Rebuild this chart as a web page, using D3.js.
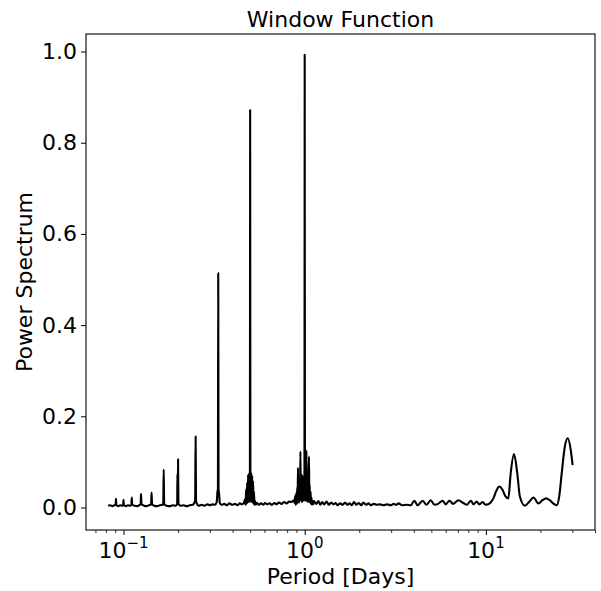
<!DOCTYPE html>
<html>
<head>
<meta charset="utf-8">
<script src="https://cdn.jsdelivr.net/npm/d3@7"></script>
<style>
  body { margin: 0; background: #fff; }
  text { font-family: "DejaVu Sans", sans-serif; fill: #000; }
</style>
</head>
<body>
<svg id="chart"></svg>
<script>
// Chart size and margins
const width = 601;
const height = 591;
const margin = { top: 34, right: 6, bottom: 61, left: 86 };
const fontSize = 22;

// Harmonic spikes at 1/n days (0.08 - 1.13 days)
const harmonicPeriod = [
  0.0823, 0.0845, 0.0868, 0.0890, 0.0905, 0.0909, 0.0913, 0.0935, 0.0960, 0.0985,
  0.0996, 0.1000, 0.1004, 0.1030, 0.1060, 0.1085, 0.1106, 0.1111, 0.1116, 0.1150,
  0.1190, 0.1220, 0.1243, 0.1250, 0.1257, 0.1300, 0.1340, 0.1380, 0.1420, 0.1429,
  0.1438, 0.1480, 0.1530, 0.1590, 0.1657, 0.1667, 0.1677, 0.1730, 0.1800, 0.1870,
  0.1940, 0.1978, 0.1985, 0.1992, 0.2000, 0.2010, 0.2070, 0.2150, 0.2230, 0.2320,
  0.2410, 0.2470, 0.2486, 0.2500, 0.2514, 0.2530, 0.2600, 0.2700, 0.2800, 0.2900,
  0.3000, 0.3100, 0.3200, 0.3270, 0.3300, 0.3320, 0.3333, 0.3347, 0.3370, 0.3400,
  0.3480, 0.3600, 0.3720, 0.3850, 0.3980, 0.4120, 0.4250, 0.4380, 0.4500, 0.4620,
  0.4680, 0.4720, 0.4750, 0.4780, 0.4810, 0.4840, 0.4870, 0.4900, 0.4930, 0.4960,
  0.4985, 0.5000, 0.5015, 0.5040, 0.5070, 0.5100, 0.5130, 0.5160, 0.5190, 0.5220,
  0.5250, 0.5280, 0.5320, 0.5370, 0.5450, 0.5600, 0.5750, 0.5900, 0.6050, 0.6200,
  0.6400, 0.6600, 0.6800, 0.7000, 0.7200, 0.7450, 0.7700, 0.7950, 0.8200, 0.8450,
  0.8700, 0.8800, 0.8860, 0.8920, 0.8980, 0.9040, 0.9100, 0.9140, 0.9180, 0.9220,
  0.9270, 0.9320, 0.9370, 0.9420, 0.9470, 0.9520, 0.9570, 0.9620, 0.9670, 0.9720,
  0.9770, 0.9820, 0.9870, 0.9920, 0.9970, 1.0000, 1.0030, 1.0080, 1.0130, 1.0180,
  1.0220, 1.0260, 1.0310, 1.0360, 1.0410, 1.0460, 1.0510, 1.0560, 1.0610, 1.0660,
  1.0710, 1.0770, 1.0830, 1.0900, 1.0970, 1.1050, 1.1150, 1.1250
];
const harmonicPower = [
  0.004, 0.005, 0.003, 0.005, 0.006, 0.019, 0.006, 0.003, 0.005, 0.004,
  0.006, 0.017, 0.006, 0.003, 0.005, 0.004, 0.006, 0.022, 0.006, 0.004,
  0.003, 0.005, 0.007, 0.030, 0.007, 0.004, 0.003, 0.005, 0.007, 0.033,
  0.007, 0.004, 0.003, 0.005, 0.007, 0.083, 0.007, 0.004, 0.003, 0.005,
  0.004, 0.008, 0.074, 0.012, 0.106, 0.008, 0.004, 0.005, 0.003, 0.005,
  0.006, 0.012, 0.016, 0.156, 0.016, 0.010, 0.004, 0.006, 0.004, 0.007,
  0.005, 0.007, 0.006, 0.012, 0.035, 0.040, 0.514, 0.040, 0.030, 0.010,
  0.006, 0.008, 0.005, 0.009, 0.006, 0.008, 0.005, 0.009, 0.007, 0.010,
  0.018, 0.006, 0.040, 0.008, 0.055, 0.010, 0.072, 0.012, 0.075, 0.012,
  0.070, 0.871, 0.070, 0.012, 0.076, 0.012, 0.070, 0.010, 0.058, 0.008,
  0.035, 0.006, 0.015, 0.006, 0.010, 0.006, 0.009, 0.006, 0.010, 0.007,
  0.009, 0.006, 0.010, 0.007, 0.011, 0.008, 0.012, 0.009, 0.013, 0.012,
  0.016, 0.010, 0.025, 0.006, 0.032, 0.008, 0.045, 0.010, 0.087, 0.012,
  0.055, 0.010, 0.065, 0.015, 0.123, 0.015, 0.070, 0.012, 0.072, 0.012,
  0.068, 0.015, 0.062, 0.015, 0.055, 0.993, 0.055, 0.015, 0.075, 0.015,
  0.125, 0.015, 0.078, 0.012, 0.070, 0.012, 0.068, 0.112, 0.012, 0.050,
  0.010, 0.035, 0.008, 0.022, 0.006, 0.015, 0.007, 0.014
];

// Low-level noise, 1.16 - 10 days
const noisePeriod = [
  1.16, 1.19, 1.22, 1.25, 1.28, 1.32, 1.36, 1.40, 1.44, 1.48,
  1.52, 1.57, 1.62, 1.67, 1.72, 1.77, 1.82, 1.87, 1.93, 1.99,
  2.05, 2.11, 2.18, 2.25, 2.32, 2.40, 2.50, 2.60, 2.72, 2.85,
  2.98, 3.10, 3.20, 3.30, 3.45, 3.65, 3.85, 4.03, 4.20, 4.48,
  4.70, 4.96, 5.20, 5.45, 5.77, 6.00, 6.29, 6.60, 7.05, 7.50,
  7.85, 8.25, 8.55, 8.90, 9.20, 9.60, 9.95
];
const noisePower = [
  0.008, 0.014, 0.006, 0.012, 0.007, 0.013, 0.006, 0.011, 0.007, 0.010,
  0.005, 0.009, 0.006, 0.011, 0.006, 0.009, 0.005, 0.012, 0.006, 0.010,
  0.005, 0.011, 0.006, 0.009, 0.005, 0.008, 0.006, 0.007, 0.005, 0.007,
  0.005, 0.008, 0.006, 0.009, 0.005, 0.006, 0.005, 0.015, 0.005, 0.015,
  0.006, 0.016, 0.006, 0.008, 0.015, 0.007, 0.015, 0.008, 0.016, 0.010,
  0.006, 0.015, 0.007, 0.013, 0.007, 0.012, 0.006
];

// Smooth long-period part, 10 - 30 days
const longPeriod = [
  10.4, 11.0, 11.45, 11.86, 12.3, 12.8, 13.3, 13.7, 14.29, 14.9,
  15.4, 16.4, 17.3, 18.3, 19.5, 20.5, 21.5, 22.5, 23.5, 24.6,
  25.4, 26.2, 27.3, 28.3, 29.4, 30.1
];
const longPower = [
  0.008, 0.020, 0.038, 0.046, 0.040, 0.025, 0.020, 0.075, 0.117, 0.075,
  0.024, 0.004, 0.012, 0.022, 0.009, 0.016, 0.020, 0.016, 0.009, 0.005,
  0.025, 0.075, 0.135, 0.152, 0.126, 0.093
];

// Ticks
const yTicks = [0.0, 0.2, 0.4, 0.6, 0.8, 1.0];
const xMajorTicks = [0.1, 1, 10];
const xMajorExp = ["\u22121", "0", "1"];
const xMinorTicks = [0.07, 0.08, 0.09, 0.2, 0.3, 0.4, 0.5, 0.6, 0.7, 0.8, 0.9,
  2, 3, 4, 5, 6, 7, 8, 9, 20, 30, 40];

const periods = harmonicPeriod.concat(noisePeriod, longPeriod);
const powers = harmonicPower.concat(noisePower, longPower);
const data = periods.map((p, i) => ({ period: p, power: powers[i] }));

const svg = d3.select("#chart")
  .attr("width", width)
  .attr("height", height);

const x = d3.scaleLog()
  .domain([0.0621, 40.0])
  .range([margin.left, width - margin.right]);

const y = d3.scaleLinear()
  .domain([-0.0493, 1.0384])
  .range([height - margin.bottom, margin.top]);

svg.append("defs").append("clipPath")
  .attr("id", "plot-clip")
  .append("rect")
  .attr("x", margin.left)
  .attr("y", margin.top)
  .attr("width", width - margin.left - margin.right)
  .attr("height", height - margin.top - margin.bottom);

// Spectrum line
const line = d3.line()
  .x(d => x(d.period))
  .y(d => y(d.power))
  .curve(d3.curveMonotoneX);

svg.append("path")
  .datum(data)
  .attr("clip-path", "url(#plot-clip)")
  .attr("d", line)
  .attr("fill", "none")
  .attr("stroke", "#000")
  .attr("stroke-width", 2.1)
  .attr("stroke-linejoin", "round");

// Y axis
const yAxis = svg.append("g")
  .attr("transform", `translate(${margin.left},0)`)
  .call(d3.axisLeft(y).tickValues(yTicks).tickSize(5).tickPadding(4)
    .tickFormat(d3.format(".1f")));
yAxis.select(".domain").remove();
yAxis.selectAll("line").attr("stroke", "#000").attr("stroke-width", 1);
yAxis.selectAll("text")
  .attr("font-size", fontSize)
  .attr("font-family", "DejaVu Sans, sans-serif")
  .attr("fill", "#000");

// X axis: major ticks
const xAxis = svg.append("g")
  .attr("transform", `translate(0,${height - margin.bottom})`)
  .call(d3.axisBottom(x).tickValues(xMajorTicks).tickSize(5).tickFormat(""));
xAxis.select(".domain").remove();
xAxis.selectAll("line").attr("stroke", "#000").attr("stroke-width", 1);

// X axis: minor ticks
const xMinor = svg.append("g")
  .attr("transform", `translate(0,${height - margin.bottom})`)
  .call(d3.axisBottom(x).tickValues(xMinorTicks).tickSize(3).tickFormat(""));
xMinor.select(".domain").remove();
xMinor.selectAll("line").attr("stroke", "#000").attr("stroke-width", 0.8);

// X tick labels as 10^n
const xLabels = svg.append("g")
  .selectAll("text")
  .data(xMajorTicks)
  .enter().append("text")
  .attr("x", d => x(d))
  .attr("y", 558)
  .attr("text-anchor", "middle")
  .attr("font-size", fontSize);
xLabels.append("tspan").text("10");
xLabels.append("tspan")
  .attr("dy", -10)
  .attr("font-size", 15)
  .text((d, i) => xMajorExp[i]);

// Frame
svg.append("rect")
  .attr("x", margin.left)
  .attr("y", margin.top)
  .attr("width", width - margin.left - margin.right)
  .attr("height", height - margin.top - margin.bottom)
  .attr("fill", "none")
  .attr("stroke", "#000")
  .attr("stroke-width", 1.1);

// Title and axis labels
const cx = (margin.left + width - margin.right) / 2;
svg.append("text")
  .attr("x", cx)
  .attr("y", 27)
  .attr("text-anchor", "middle")
  .attr("font-size", fontSize)
  .text("Window Function");

svg.append("text")
  .attr("x", cx)
  .attr("y", 584)
  .attr("text-anchor", "middle")
  .attr("font-size", fontSize)
  .text("Period [Days]");

svg.append("text")
  .attr("transform", `translate(32,${(margin.top + height - margin.bottom) / 2}) rotate(-90)`)
  .attr("text-anchor", "middle")
  .attr("font-size", fontSize)
  .text("Power Spectrum");
</script>
</body>
</html>
